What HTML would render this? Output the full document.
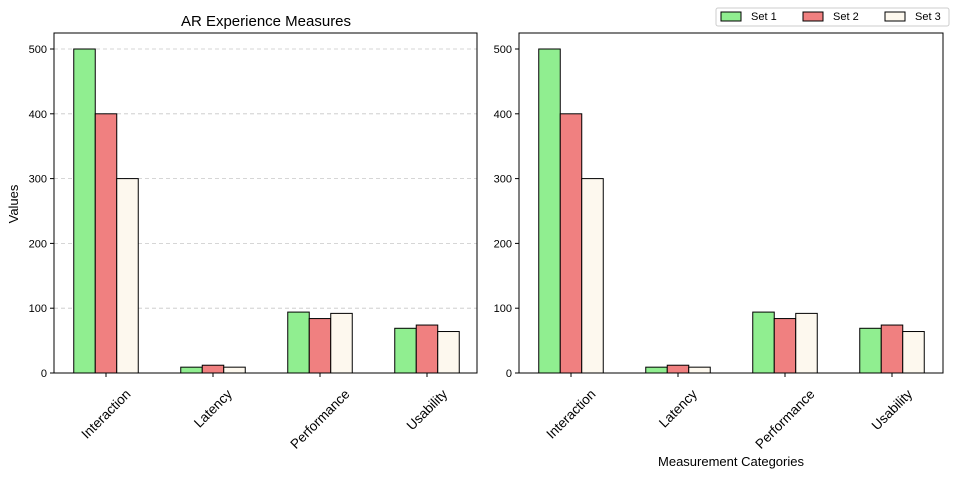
<!DOCTYPE html>
<html><head><meta charset="utf-8"><style>
body{margin:0;background:#fff;font-family:"Liberation Sans",sans-serif}
</style></head><body>
<svg id="c" width="957" height="476" xmlns="http://www.w3.org/2000/svg" font-family="Liberation Sans, sans-serif"></svg>
<script>
const categories=["Interaction","Latency","Performance","Usability"];
const set1=[500,9,94,69];
const set2=[400,12,84,74];
const set3=[300,9,92,64];
const yTicks=[0,100,200,300,400,500];
const seriesNames=["Set 1","Set 2","Set 3"];
const colors=["#90ee90","#f08080","#fdf8ee"];
const svg=document.getElementById('c');
const NS="http://www.w3.org/2000/svg";
function mk(t,a,p){const e=document.createElementNS(NS,t);for(const k in a)e.setAttribute(k,a[k]);(p||svg).appendChild(e);return e;}
const y0=373,pxPer=0.648;
function ys(v){return y0-v*pxPer;}
function drawPanel(left,right,grid,name){
  const g=mk('g',{});
  
  
  const firstC=left+52,step=107,bw=21.5;
  const xs=i=>firstC+i*step;
  yTicks.forEach(t=>{
    const y=ys(t);
    if(grid&&t>0){const l=mk('line',{x1:left,x2:right,y1:y,y2:y,stroke:'#c8c8c8','stroke-dasharray':'4,3','stroke-width':0.8},g);}
    mk('line',{x1:left-4,x2:left,y1:y,y2:y,stroke:'#000'},g);
    const tx=mk('text',{x:left-7,y:y+4,'text-anchor':'end','font-size':11},g);tx.textContent=t;
    
  });
  [set1,set2,set3].forEach((s,k)=>{
    s.forEach((v,i)=>{
      const x=xs(i)+(k-1)*bw-bw/2;
      const r=mk('rect',{x:x,y:ys(v),width:bw,height:v*pxPer,fill:colors[k],stroke:'#000','stroke-width':1},g);
      
      
    });
  });
  categories.forEach((c,i)=>{
    const x=xs(i);
    mk('line',{x1:x,x2:x,y1:y0,y2:y0+4,stroke:'#000'},g);
    const tx=mk('text',{x:x,y:0,'text-anchor':'middle','dominant-baseline':'central','font-size':13.5},g);
    tx.textContent=c;
    const w=tx.getComputedTextLength();
    const half=(w*0.7071+13.5*0.7071)/2;
    const cy=y0+14+half;
    tx.setAttribute('y',cy);
    tx.setAttribute('transform',`rotate(-45 ${x} ${cy})`);
    
  });
  mk('rect',{x:left,y:33,width:right-left,height:y0-33,fill:'none',stroke:'#000','stroke-width':1},g);
}
drawPanel(54,477,true,'left-panel');
drawPanel(519,943,false,'right-panel');
let t=mk('text',{x:266,y:26,'text-anchor':'middle','font-size':15});t.textContent="AR Experience Measures";

t=mk('text',{x:18,y:204,'text-anchor':'middle','font-size':13,transform:'rotate(-90 18 204)'});t.textContent="Values";

t=mk('text',{x:731,y:466,'text-anchor':'middle','font-size':13});t.textContent="Measurement Categories";

const lg=mk('g',{});


mk('rect',{x:716,y:8,width:233,height:18,fill:'#fff',stroke:'#ccc',rx:2},lg);
seriesNames.forEach((n,k)=>{
  const x=721+k*82;
  const e=mk('g',{},lg);
  
  
  mk('rect',{x:x,y:12,width:20,height:9,fill:colors[k],stroke:'#000'},e);
  const tx=mk('text',{x:x+30,y:20,'font-size':11},e);tx.textContent=n;
});
</script>
</body></html>
